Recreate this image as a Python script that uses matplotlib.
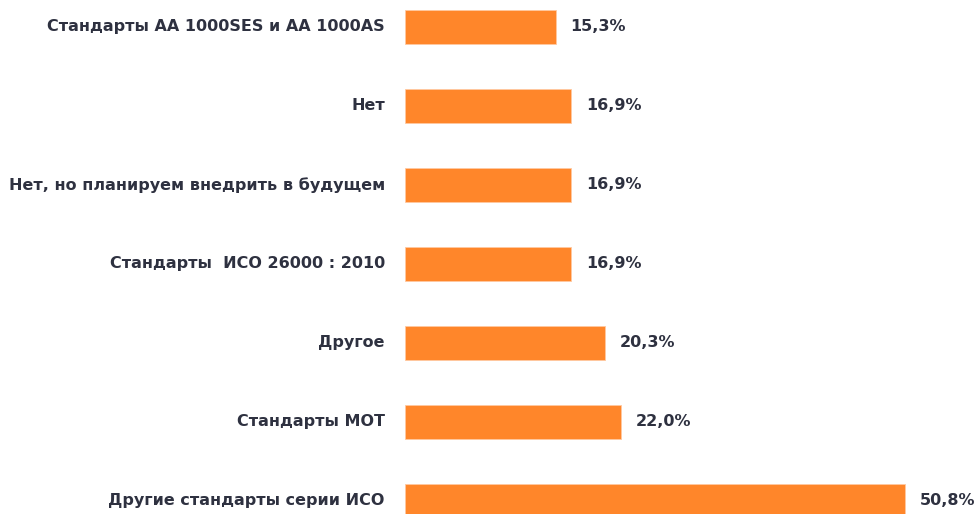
import matplotlib
matplotlib.use("Agg")
import matplotlib.pyplot as plt

categories = [
    "Стандарты АА 1000SES и АА 1000AS",
    "Нет",
    "Нет, но планируем внедрить в будущем",
    "Стандарты  ИСО 26000 : 2010",
    "Другое",
    "Стандарты МОТ",
    "Другие стандарты серии ИСО",
]
values = [15.3, 16.9, 16.9, 16.9, 20.3, 22.0, 50.8]
value_labels = ["15,3%", "16,9%", "16,9%", "16,9%", "20,3%", "22,0%", "50,8%"]

ORANGE = "#FF862A"
INK = "#2e3140"
plt.rcParams["font.family"] = ["DejaVu Sans"]

W, H = 979, 514
fig = plt.figure(figsize=(W / 100, H / 100), dpi=100)
ax = fig.add_axes([405 / W, 0, (W - 405) / W, 1])

ys = list(range(len(categories)))
ax.barh(ys, values, height=0.43, color=ORANGE, edgecolor="#ffc9a0", linewidth=0.6)
ax.set_xlim(0, (W - 405) / 9.84)
ax.set_ylim(6.165, -0.34)

for y, v, lab in zip(ys, values, value_labels):
    ax.annotate(lab, (v, y), xytext=(10.5, 0), textcoords="offset points",
                va="center", ha="left", fontsize=11.5, fontweight="bold", color=INK,
                annotation_clip=False)
    ax.annotate(categories[y], (0, y), xytext=(-14.5, 0), textcoords="offset points",
                va="center", ha="right", fontsize=11.5, fontweight="bold", color=INK,
                annotation_clip=False)

ax.axis("off")
fig.savefig("out.png", dpi=100)
